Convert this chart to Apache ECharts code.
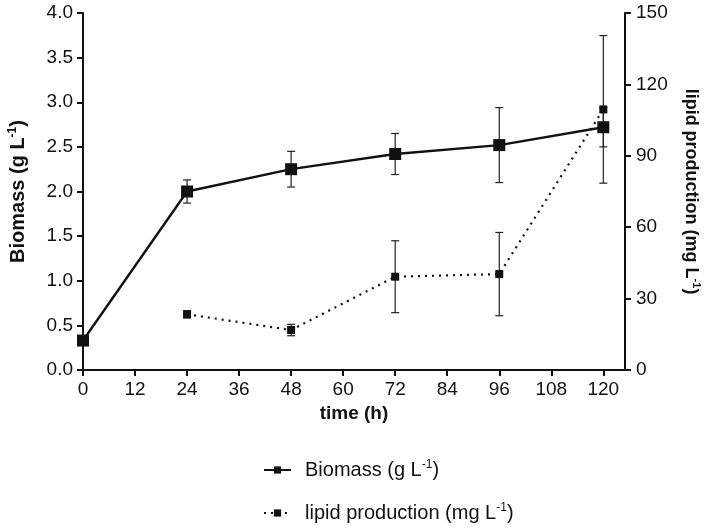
<!DOCTYPE html>
<html>
<head>
<meta charset="utf-8">
<script src="https://cdn.jsdelivr.net/npm/echarts@6/dist/echarts.min.js"></script>
<style>html,body{margin:0;padding:0;background:#fff;}#c{width:709px;height:528px;}</style>
</head>
<body>
<div id="c"></div>
<script>
const times = [0, 24, 48, 72, 96, 120];
const xTicks = [0, 12, 24, 36, 48, 60, 72, 84, 96, 108, 120];
const biomass = [0.33, 2.0, 2.25, 2.42, 2.52, 2.72];
const biomassErr = [0, 0.13, 0.2, 0.23, 0.42, 0.22];
const lipid = [null, 23.4, 16.8, 39.2, 40.3, 109.5];
const lipidErr = [null, 1.5, 2.4, 15.1, 17.5, 31];

const FONT = '"Liberation Sans", Arial, Helvetica, sans-serif';
const INK = '#111';

const chart = echarts.init(document.getElementById('c'), null, {renderer: 'canvas'});

function errItem(params, api) {
  const x = api.value(0), y = api.value(1), e = api.value(2);
  if (!e) return null;
  const top = api.coord([x, y + e]);
  const bot = api.coord([x, y - e]);
  const w = 4;
  const st = {stroke: '#222', lineWidth: 1.2};
  return {
    type: 'group',
    children: [
      {type: 'line', shape: {x1: top[0], y1: top[1], x2: bot[0], y2: bot[1]}, style: st},
      {type: 'line', shape: {x1: top[0] - w, y1: top[1], x2: top[0] + w, y2: top[1]}, style: st},
      {type: 'line', shape: {x1: bot[0] - w, y1: bot[1], x2: bot[0] + w, y2: bot[1]}, style: st}
    ]
  };
}

const biomassPts = times.map((t, i) => [t, biomass[i]]);
const lipidPts = times.map((t, i) => [t, lipid[i]]).filter(p => p[1] !== null);
const biomassErrPts = times.map((t, i) => [t, biomass[i], biomassErr[i]]);
const lipidErrPts = times.map((t, i) => [t, lipid[i], lipidErr[i]]).filter(p => p[1] !== null);

function mkRich(size, weight) {
  return {
    n: {fontFamily: FONT, fontSize: size, fontWeight: weight, color: INK, lineHeight: 22},
    s: {fontFamily: FONT, fontSize: Math.round(size * 0.6), fontWeight: weight, color: INK, lineHeight: 22, verticalAlign: 'top', padding: [0, 0, 9, 0]}
  };
}

const tickStyle = {show: true, length: 6, lineStyle: {color: INK, width: 2}};
const lineStyleAxis = {show: true, lineStyle: {color: INK, width: 2}};

chart.setOption({
  animation: false,
  backgroundColor: '#fff',
  grid: {left: 83, right: 84, top: 13, bottom: 158, containLabel: false, outerBoundsMode: 'none'},
  legend: {
    orient: 'vertical',
    left: 263,
    top: 459,
    padding: 0,
    itemGap: 22,
    itemWidth: 27,
    itemHeight: 9,
    data: ['Biomass', 'lipid'],
    formatter: function (name) {
      return name === 'Biomass' ? '{n|Biomass (g L}{s|-1}{n|)}' : '{n|lipid production (mg L}{s|-1}{n|)}';
    },
    textStyle: {rich: mkRich(20, 'normal'), padding: [0, 0, 0, 9]}
  },
  xAxis: {
    type: 'value', min: 0, max: 125,
    name: 'time (h)', nameLocation: 'middle', nameGap: 32,
    nameTextStyle: {fontFamily: FONT, fontSize: 19, fontWeight: 'bold', color: INK},
    axisLine: lineStyleAxis,
    splitLine: {show: false},
    axisTick: Object.assign({}, tickStyle, {customValues: xTicks}),
    axisLabel: {fontFamily: FONT, fontSize: 19, color: INK, margin: 10, customValues: xTicks}
  },
  yAxis: [
    {
      type: 'value', min: 0, max: 4, interval: 0.5, position: 'left',
      name: '{n|Biomass (g L}{s|-1}{n|)}', nameLocation: 'middle', nameGap: 54,
      nameTextStyle: {rich: mkRich(20, 'bold')},
      axisLine: lineStyleAxis, axisTick: tickStyle, splitLine: {show: false},
      axisLabel: {fontFamily: FONT, fontSize: 19, color: INK, margin: 10, formatter: v => v.toFixed(1)}
    },
    {
      type: 'value', min: 0, max: 150, interval: 30, position: 'right',
      name: '{n|lipid production (mg L}{s|-1}{n|)}', nameLocation: 'middle', nameGap: 55, nameRotate: -90,
      nameTextStyle: {rich: mkRich(18, 'bold')},
      axisLine: lineStyleAxis, axisTick: tickStyle, splitLine: {show: false},
      axisLabel: {fontFamily: FONT, fontSize: 19, color: INK, margin: 11}
    }
  ],
  series: [
    {type: 'custom', name: 'bErr', yAxisIndex: 0, renderItem: errItem, data: biomassErrPts, z: 1, silent: true},
    {type: 'custom', name: 'lErr', yAxisIndex: 1, renderItem: errItem, data: lipidErrPts, z: 1, silent: true},
    {
      name: 'Biomass', type: 'line', yAxisIndex: 0, data: biomassPts,
      symbol: 'rect', symbolSize: 12, showAllSymbol: true,
      lineStyle: {color: INK, width: 2.4},
      itemStyle: {color: INK},
      z: 3
    },
    {
      name: 'lipid', type: 'line', yAxisIndex: 1, data: lipidPts,
      symbol: 'rect', symbolSize: 8, showAllSymbol: true,
      lineStyle: {color: INK, width: 2.2, type: [2, 5]},
      itemStyle: {color: INK},
      z: 3
    }
  ]
});
</script>
</body>
</html>
